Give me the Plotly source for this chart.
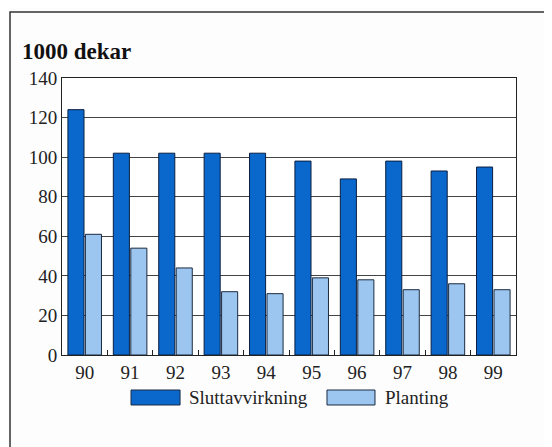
import plotly.graph_objects as go

years = ["90", "91", "92", "93", "94", "95", "96", "97", "98", "99"]
sluttavvirkning = [124, 102, 102, 102, 102, 98, 89, 98, 93, 95]
planting = [61, 54, 44, 32, 31, 39, 38, 33, 36, 33]
y_ticks = [0, 20, 40, 60, 80, 100, 120, 140]

serif = "Liberation Serif, Times New Roman, serif"
dark = "#0a68cc"
light = "#9cc6f0"

fig = go.Figure([
    go.Bar(name="Sluttavvirkning", x=years, y=sluttavvirkning,
           marker=dict(color=dark, line=dict(color="#0a1e40", width=1))),
    go.Bar(name="Planting", x=years, y=planting,
           marker=dict(color=light, line=dict(color="#1a2a40", width=1))),
])

# the page has an 8px body margin, so the figure is a little smaller than the window
fig.update_layout(
    width=544, height=439,
    margin=dict(l=54, r=36, t=70, b=92),
    paper_bgcolor="#fdfdfd", plot_bgcolor="white",
    barmode="group", bargap=0.23, bargroupgap=0.08,
    font=dict(family=serif, size=19, color="#222"),
    showlegend=False,
)

# title
fig.add_annotation(text="<b>1000 dekar</b>", xref="paper", yref="paper",
                   x=-0.093, y=1.094, xanchor="left", yanchor="middle",
                   showarrow=False, font=dict(size=23, family=serif, color="#111"))

# outer frame
fig.add_shape(type="rect", xref="paper", yref="paper",
              x0=-0.1145, x1=1.0705, y0=-0.36, y1=1.238,
              line=dict(color="#333", width=1.5))

# legend with wide swatches, like the original
legend_items = [(sluttavvirkning, "Sluttavvirkning", dark, 0.152, 0.260, 0.2753),
                (planting, "Planting", light, 0.5837, 0.6894, 0.707)]
for _, name, col, sx0, sx1, tx in legend_items:
    fig.add_shape(type="rect", xref="paper", yref="paper",
                  x0=sx0, x1=sx1, y0=-0.1805, y1=-0.1264,
                  fillcolor=col, line=dict(color="#1a2a40", width=1))
    fig.add_annotation(text=name, xref="paper", yref="paper", x=tx, y=-0.1534,
                       xanchor="left", yanchor="middle", showarrow=False,
                       font=dict(size=19, family=serif, color="#222"))

fig.update_xaxes(type="category", showline=True, linecolor="#222", linewidth=1,
                 mirror=True, ticks="inside", tickson="boundaries", ticklen=5,
                 tickcolor="#222", showgrid=False, tickfont=dict(size=19))
fig.update_yaxes(range=[0, 140], tickvals=y_ticks, showline=True, linecolor="#222",
                 linewidth=1, mirror=True, showgrid=True, gridcolor="#444",
                 gridwidth=1, ticks="", zeroline=False, tickfont=dict(size=19))

fig.write_html("out.html")
